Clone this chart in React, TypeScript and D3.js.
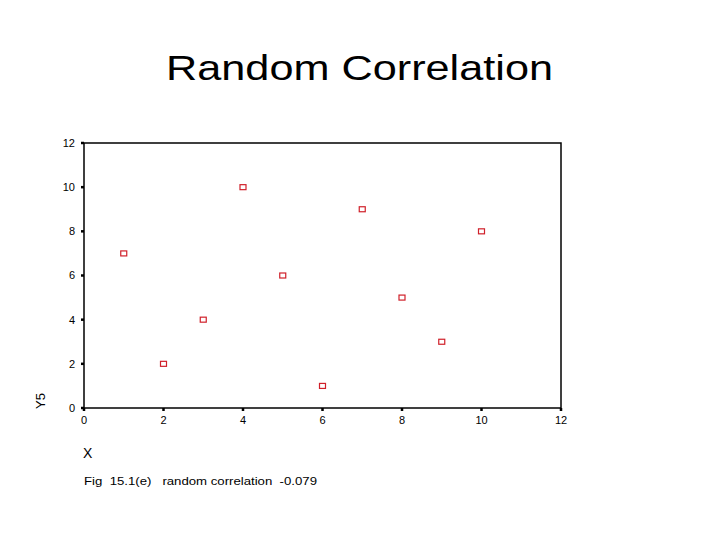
import React from "react";
import * as d3 from "d3";

const xValues = [1, 2, 3, 4, 5, 6, 7, 8, 9, 10];
const yValues = [7, 2, 4, 10, 6, 1, 9, 5, 3, 8];
const xTicks = [0, 2, 4, 6, 8, 10, 12];
const yTicks = [0, 2, 4, 6, 8, 10, 12];

export default function App() {
  const W = 720, H = 540;
  const x = d3.scaleLinear().domain([0, 12]).range([84, 561]);
  const y = d3.scaleLinear().domain([0, 12]).range([408, 143]);
  const font = "Liberation Sans, Arial, sans-serif";
  return (
    <svg width={W} height={H} style={{ position: "absolute", left: 0, top: 0, background: "#fff" }}>
      <text x={166} y={80} textLength={387} lengthAdjust="spacingAndGlyphs" fontFamily={font} fontSize={35} fill="#000">Random Correlation</text>
      <rect x={x(0)} y={y(12)} width={x(12) - x(0)} height={y(0) - y(12)} fill="none" stroke="#000" strokeWidth={1.5} />
      {yTicks.map(t => (
        <g key={"y" + t}>
          <line x1={x(0) - 3} x2={x(0)} y1={y(t)} y2={y(t)} stroke="#000" strokeWidth={2.5} />
          <text x={75} y={y(t)} dy="0.35em" textAnchor="end" fontFamily={font} fontSize={11} fill="#000">{t}</text>
        </g>
      ))}
      {xTicks.map(t => (
        <g key={"x" + t}>
          <line x1={x(t)} x2={x(t)} y1={y(0)} y2={y(0) + 3} stroke="#000" strokeWidth={2.5} />
          <text x={x(t)} y={424} textAnchor="middle" fontFamily={font} fontSize={11} fill="#000">{t}</text>
        </g>
      ))}
      {xValues.map((v, i) => (
        <rect key={i} x={x(v) - 3} y={y(yValues[i]) - 2.5} width={6} height={5} fill="#fff" stroke="#d0202a" strokeWidth={1.2} />
      ))}
      <text transform="translate(45,401) rotate(-90)" textAnchor="middle" fontFamily={font} fontSize={13} fill="#000">Y5</text>
      <text x={83} y={458} fontFamily={font} fontSize={14} fill="#000">X</text>
      <text x={84} y={485} textLength={233} lengthAdjust="spacingAndGlyphs" fontFamily={font} fontSize={11.5} fill="#000" style={{ whiteSpace: "pre" }}>{"Fig  15.1(e)   random correlation  -0.079"}</text>
    </svg>
  );
}
